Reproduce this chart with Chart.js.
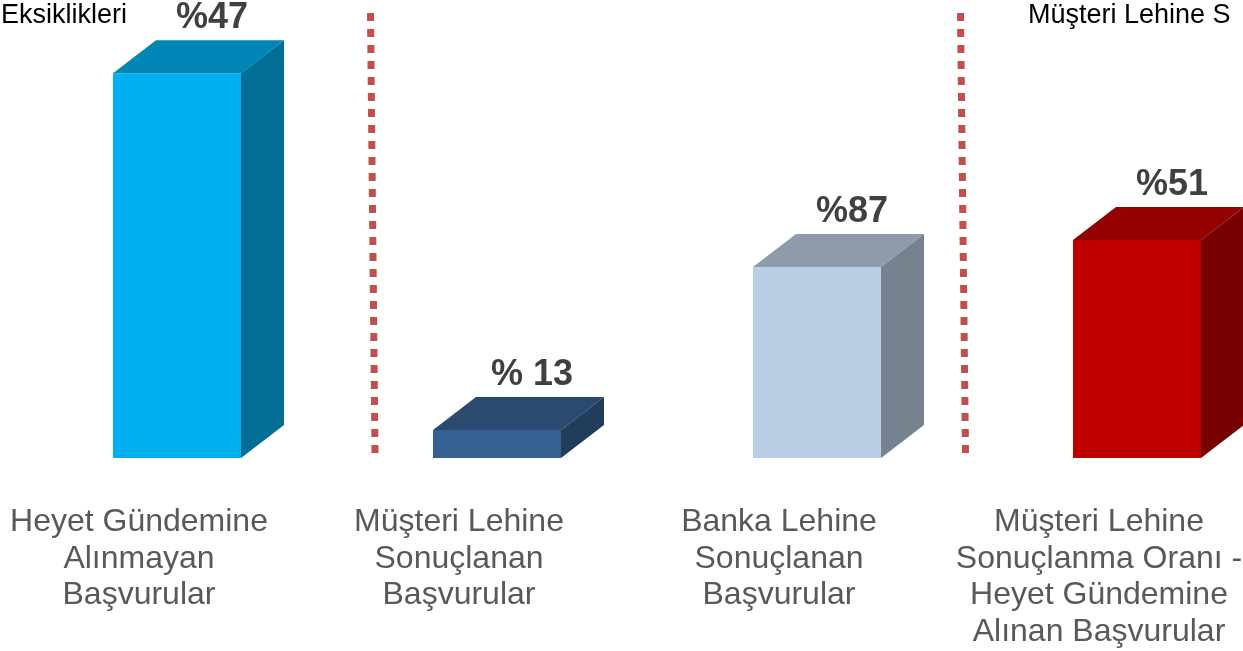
<!DOCTYPE html>
<html lang="tr">
<head>
<meta charset="utf-8">
<title>Başvurular</title>
<script src="https://cdn.jsdelivr.net/npm/chart.js@4/dist/chart.umd.min.js"></script>
<style>
  html, body { margin: 0; padding: 0; background: #fff; overflow: hidden; }
  #wrap { width: 1300px; height: 651px; }
</style>
</head>
<body>
<div id="wrap"><canvas id="chart" width="1300" height="651"></canvas></div>
<script>
const categories = [
  ["Heyet Gündemine", "Alınmayan", "Başvurular"],
  ["Müşteri Lehine", "Sonuçlanan", "Başvurular"],
  ["Banka Lehine", "Sonuçlanan", "Başvurular"],
  ["Müşteri Lehine", "Sonuçlanma Oranı -", "Heyet Gündemine", "Alınan Başvurular"],
];
// drawn bar heights (the slide does not use one common scale)
const barHeights = [84, 6.1, 41.7, 47.6];
const valueLabels = ["%47", "% 13", "%87", "%51"];

const frontColors = ["#00B0F0", "#366092", "#B9CDE5", "#C00000"];
const topColors = ["#0086B6", "#2B4A70", "#8E9BAB", "#920000"];
const sideColors = ["#006E96", "#223C5C", "#76838F", "#780000"];

const FONT = "'Liberation Sans', Arial, sans-serif";

// top + side faces so the bars look like boxes, plus the value labels
const boxPlugin = {
  id: "box3d",
  afterDatasetsDraw(chart) {
    const ctx = chart.ctx;
    const meta = chart.getDatasetMeta(0);
    const dx = 43;
    const dy = 33;
    meta.data.forEach((bar, i) => {
      const left = bar.x - bar.width / 2;
      const right = bar.x + bar.width / 2;
      const top = bar.y;
      const base = bar.base;

      ctx.save();
      ctx.fillStyle = topColors[i];
      ctx.beginPath();
      ctx.moveTo(left, top);
      ctx.lineTo(right, top);
      ctx.lineTo(right + dx, top - dy);
      ctx.lineTo(left + dx, top - dy);
      ctx.closePath();
      ctx.fill();

      ctx.fillStyle = sideColors[i];
      ctx.beginPath();
      ctx.moveTo(right, top);
      ctx.lineTo(right + dx, top - dy);
      ctx.lineTo(right + dx, base - dy);
      ctx.lineTo(right, base);
      ctx.closePath();
      ctx.fill();

      ctx.fillStyle = "#404040";
      ctx.font = "bold 36px " + FONT;
      ctx.textAlign = "center";
      ctx.textBaseline = "alphabetic";
      ctx.fillText(valueLabels[i], bar.x + 35, top - 45);
      ctx.restore();
    });
  },
  afterDraw(chart) {
    const ctx = chart.ctx;
    ctx.save();
    // dotted separators
    ctx.strokeStyle = "#C0504D";
    ctx.lineWidth = 7;
    ctx.setLineDash([8, 8]);
    ctx.beginPath();
    ctx.moveTo(370.5, 13);
    ctx.lineTo(375, 453);
    ctx.stroke();
    ctx.beginPath();
    ctx.moveTo(960.5, 13);
    ctx.lineTo(965.5, 453);
    ctx.stroke();

    // leftovers of the slide's headings
    ctx.setLineDash([]);
    ctx.fillStyle = "#000";
    ctx.font = "27px " + FONT;
    ctx.textBaseline = "alphabetic";
    ctx.textAlign = "right";
    ctx.fillText("Eksiklikleri", 127, 23);
    ctx.textAlign = "left";
    ctx.fillText("Müşteri Lehine S", 1028, 23);
    ctx.restore();
  },
};

new Chart(document.getElementById("chart").getContext("2d"), {
  type: "bar",
  data: {
    labels: categories,
    datasets: [
      {
        data: barHeights,
        backgroundColor: frontColors,
        borderWidth: 0,
        barPercentage: 0.4,
        categoryPercentage: 1,
      },
    ],
  },
  options: {
    responsive: false,
    animation: false,
    layout: { padding: { left: 17, right: 3, top: 0, bottom: 0 } },
    plugins: {
      legend: { display: false },
      tooltip: { enabled: false },
    },
    scales: {
      x: {
        grid: { display: false, drawTicks: false },
        border: { display: false },
        ticks: {
          color: "#595959",
          font: { family: FONT, size: 32, lineHeight: 1.14 },
          padding: 46,
          labelOffset: -38,
          maxRotation: 0,
          autoSkip: false,
        },
        afterFit(scale) {
          scale.height = 193;
          scale.paddingLeft = 0;
          scale.paddingRight = 0;
        },
      },
      y: {
        display: false,
        min: 0,
        max: 100,
      },
    },
  },
  plugins: [boxPlugin],
});
</script>
</body>
</html>
